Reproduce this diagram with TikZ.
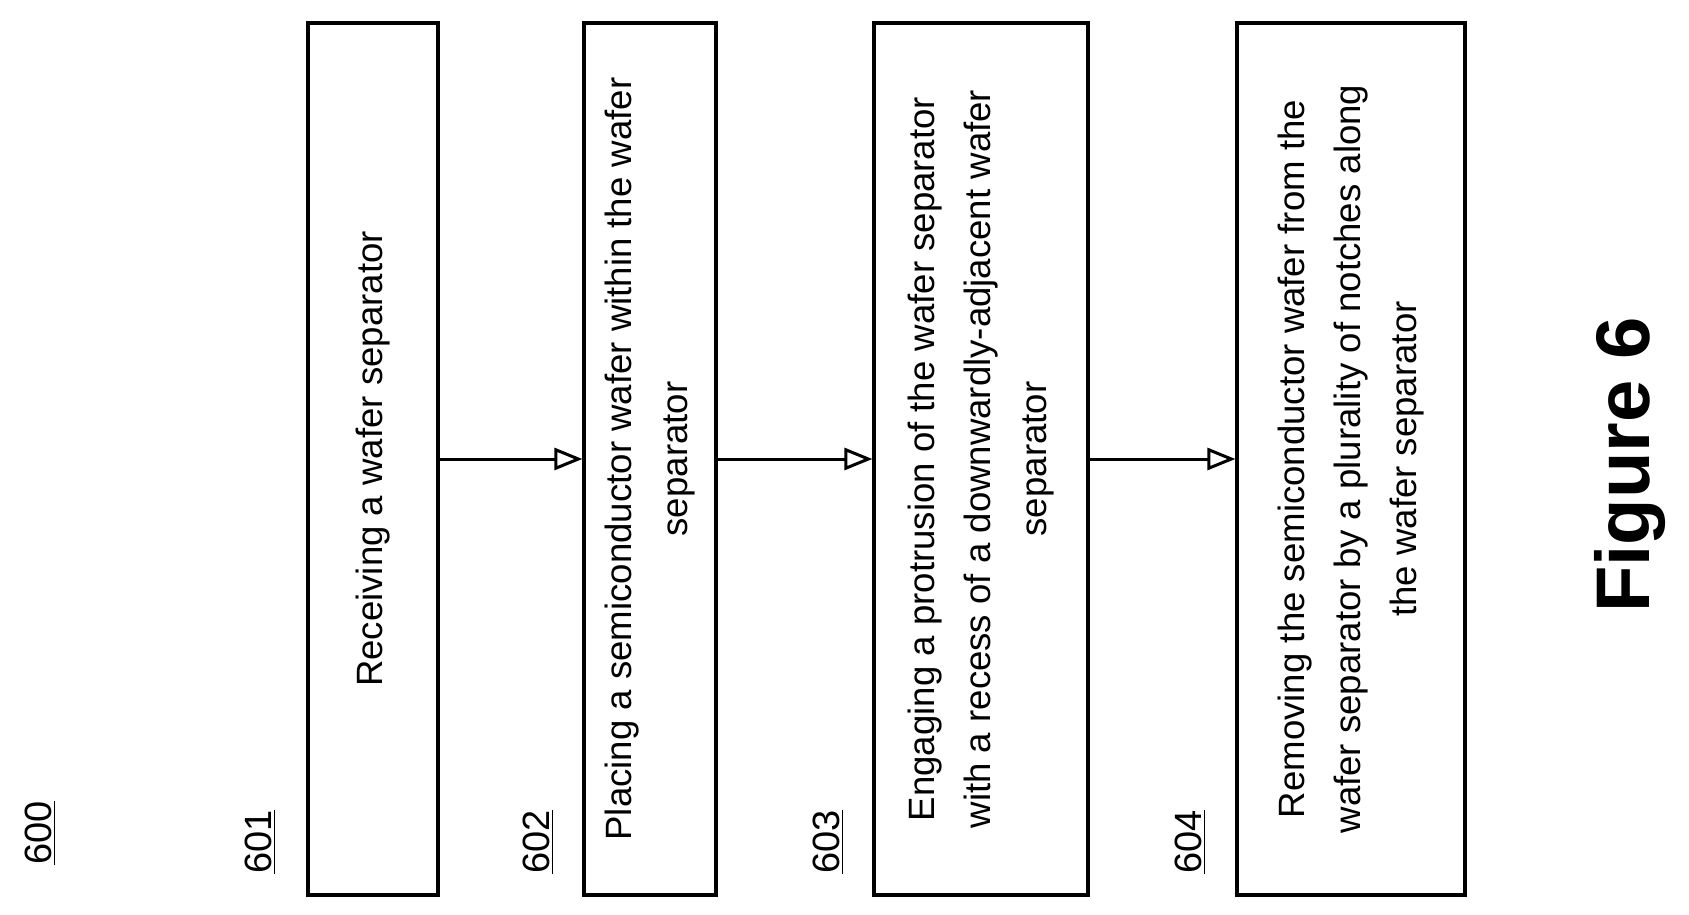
\documentclass[tikz,border=0pt]{standalone}
\usepackage{fontspec}
\setmainfont{Liberation Sans}
\usetikzlibrary{arrows.meta}
\begin{document}
\begin{tikzpicture}[x=0.5pt,y=-0.5pt,
  stepbox/.style={draw,line width=1.6pt,rotate=90,minimum width=436pt,align=center,font=\fontsize{18.3}{28}\selectfont,inner sep=0pt},
  ref/.style={rotate=90,font=\fontsize{19}{24}\selectfont},
  flow/.style={line width=1.5pt,-{Triangle[open,length=14pt,width=11pt]}}]
  \useasboundingbox (0,0) rectangle (1689,914);

  % process boxes
  \node[stepbox,minimum height=65pt] (s601) at (373,459) {Receiving a wafer separator};
  \node[stepbox,minimum height=66pt] (s602) at (650,459) {Placing a semiconductor wafer within the wafer\\separator};
  \node[stepbox,minimum height=107pt] (s603) at (981,459) {Engaging a protrusion of the wafer separator\\with a recess of a downwardly-adjacent wafer\\separator};
  \node[stepbox,minimum height=114pt] (s604) at (1351,459) {Removing the semiconductor wafer from the\\wafer separator by a plurality of notches along\\the wafer separator};

  % reference numerals
  \node[ref] (r600) at (40,833) {\underline{600}};
  \node[ref] (r601) at (260,842) {\underline{601}};
  \node[ref] (r602) at (538,842) {\underline{602}};
  \node[ref] (r603) at (828,842) {\underline{603}};
  \node[ref] (r604) at (1190,842) {\underline{604}};

  % arrows
  \draw[flow] (s601.south) -- (s602.north);
  \draw[flow] (s602.south) -- (s603.north);
  \draw[flow] (s603.south) -- (s604.north);

  \node[rotate=90,font=\fontsize{38}{40}\selectfont\bfseries] (fig) at (1630,465) {Figure 6};
\end{tikzpicture}
\end{document}
